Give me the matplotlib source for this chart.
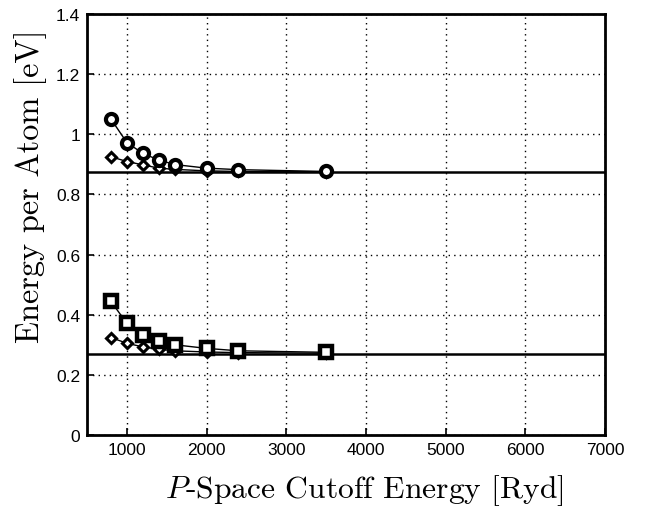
import matplotlib
matplotlib.use('Agg')
import matplotlib.pyplot as plt

# cutoff energies [Ryd]
cutoff = [800, 1000, 1200, 1400, 1600, 2000, 2400, 3500]

# upper system: two convergence series and converged reference
upper_a = [1.050, 0.972, 0.936, 0.914, 0.899, 0.887, 0.882, 0.876]
upper_b = [0.925, 0.909, 0.898, 0.887, 0.883, 0.878, 0.876, 0.875]
upper_ref = 0.874

# lower system
lower_a = [0.444, 0.371, 0.331, 0.313, 0.300, 0.288, 0.280, 0.275]
lower_b = [0.324, 0.305, 0.293, 0.285, 0.280, 0.276, 0.274, 0.272]
lower_ref = 0.269

plt.rcParams['mathtext.fontset'] = 'cm'
plt.rcParams['font.family'] = ['Liberation Sans', 'DejaVu Sans']

fig = plt.figure(figsize=(6.45, 5.1), dpi=100)
ax = fig.add_axes([0.135, 0.145, 0.803, 0.826])

ax.axhline(upper_ref, color='black', lw=1.8, zorder=2)
ax.axhline(lower_ref, color='black', lw=1.8, zorder=2)

mk = dict(color='black', lw=1.0, mfc='white', mec='black', zorder=3)
ax.plot(cutoff, upper_b, marker='D', ms=5.5, mew=2.2, **mk)
ax.plot(cutoff, upper_a, marker='o', ms=8, mew=3.0, **mk)
ax.plot(cutoff, lower_b, marker='D', ms=5.5, mew=2.2, **mk)
ax.plot(cutoff, lower_a, marker='s', ms=8, mew=3.2, **mk)

ax.set_xlim(500, 7000)
ax.set_ylim(0, 1.4)
ax.set_xticks(range(1000, 7001, 1000))
ax.set_yticks([0, 0.2, 0.4, 0.6, 0.8, 1, 1.2, 1.4])
ax.set_yticklabels(['0', '0.2', '0.4', '0.6', '0.8', '1', '1.2', '1.4'])
ax.grid(True, color='black', linestyle=(0, (1, 3)), lw=1.0)
ax.tick_params(direction='in', labelsize=12.5, length=5, width=1.2, pad=5)
for s in ax.spines.values():
    s.set_linewidth(2.0)

ax.set_xlabel(r'$P$-Space Cutoff Energy [Ryd]', fontname='cmr10', fontsize=22.7)
ax.set_ylabel('Energy per Atom [eV]', fontname='cmr10', fontsize=23.3)
ax.xaxis.set_label_coords(0.535, -0.088)
ax.yaxis.set_label_coords(-0.078, 0.594)

plt.savefig('out.png', dpi=100)
